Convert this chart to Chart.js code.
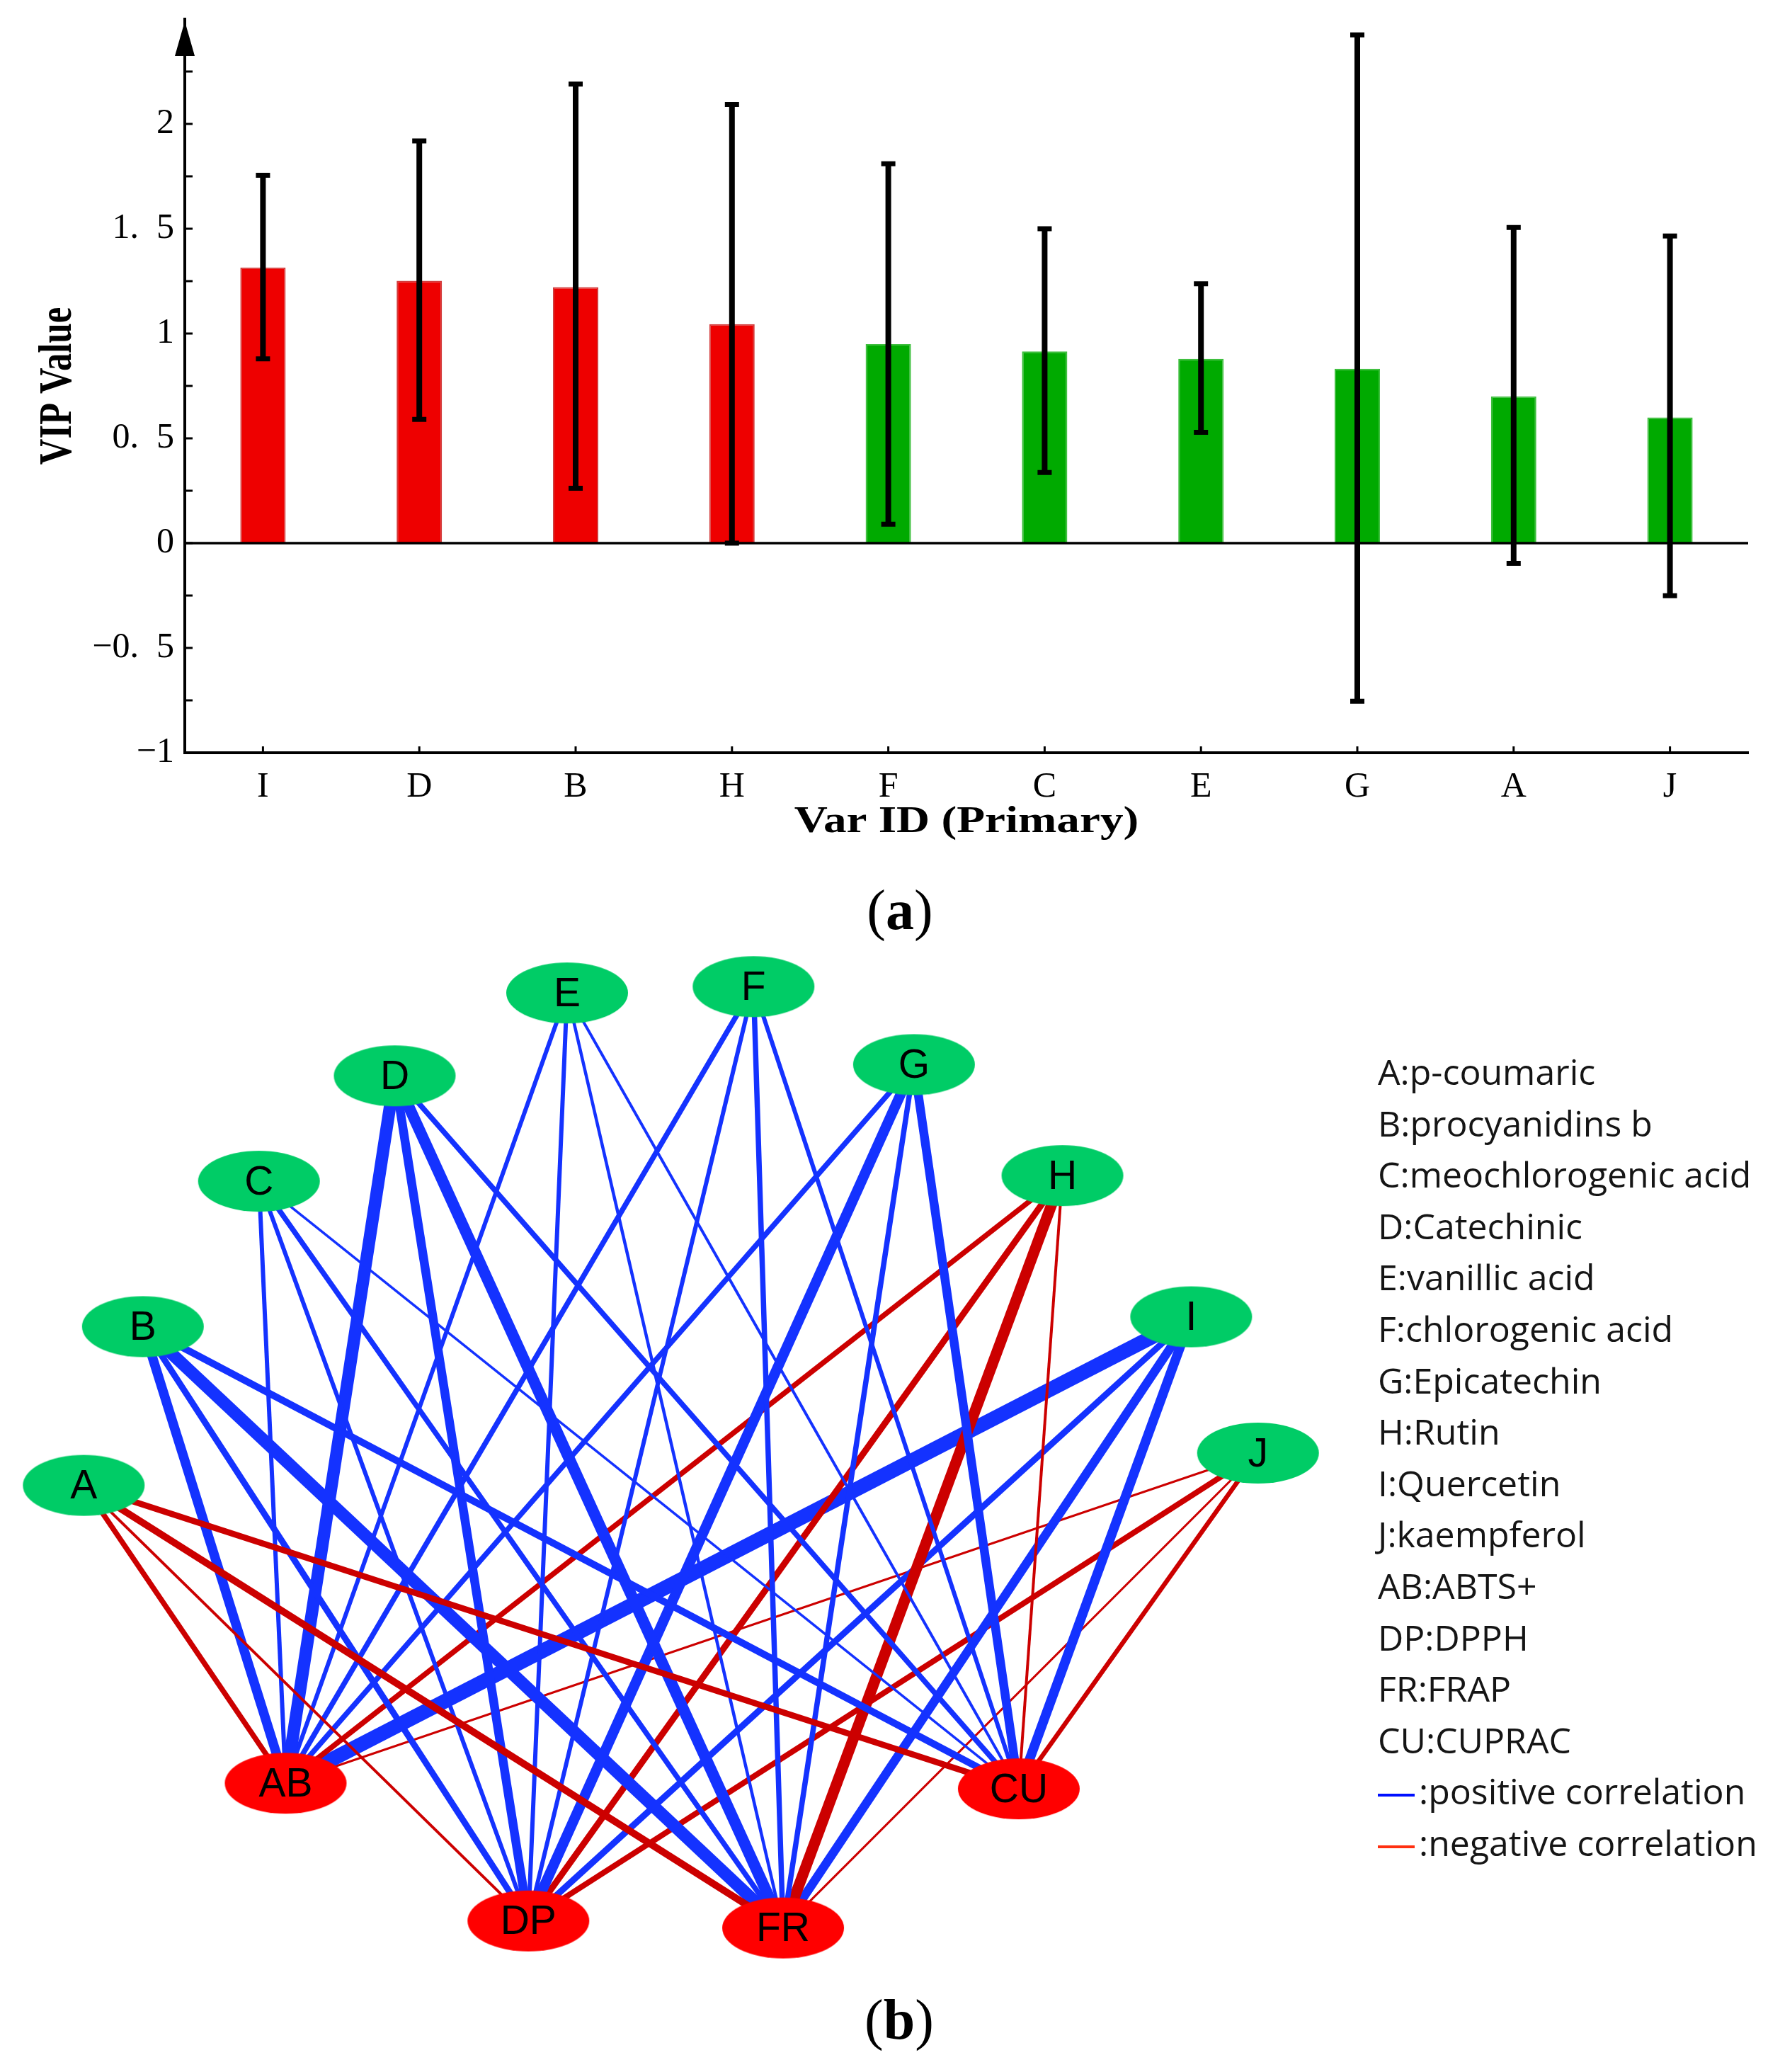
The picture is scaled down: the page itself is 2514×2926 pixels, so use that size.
<!DOCTYPE html>
<html>
<head>
<meta charset="utf-8">
<script src="https://cdn.jsdelivr.net/npm/chart.js@4.4.1/dist/chart.umd.min.js"></script>
<style>
  html, body { margin: 0; padding: 0; background: #fff; }
  body { width: 2514px; height: 2926px; position: relative; overflow: hidden; }
  #wrapVip { position: absolute; left: 0; top: 0; width: 2514px; height: 1230px; }
  #wrapRede { position: absolute; left: 0; top: 1300px; width: 1900px; height: 1500px; }
  .painel { position: absolute; font-family: "Liberation Serif", serif; font-size: 80px; color: #000;
            transform: translate(-50%, -50%); white-space: nowrap; line-height: 1; }
  #legenda { position: absolute; left: 1946px; top: 1477px; font-family: "Open Sans", sans-serif;
             font-size: 50px; line-height: 72.6px; color: #151515; white-space: nowrap; }
  .traco { display: inline-block; width: 52px; height: 4px; vertical-align: middle; margin-right: 6px; }
</style>
</head>
<body>
<div id="wrapVip"><canvas id="grafVip"></canvas></div>
<div class="painel" style="left:1271px; top:1285px;">(<b>a</b>)</div>
<div id="wrapRede"><canvas id="grafRede"></canvas></div>
<div id="legenda"></div>
<div class="painel" style="left:1270px; top:2852px;">(<b>b</b>)</div>

<script>
// ------------------------------------------------------
// 1. Dados do gráfico VIP
// ------------------------------------------------------
const categorias = ["I", "D", "B", "H", "F", "C", "E", "G", "A", "J"];
const vip = [1.315, 1.252, 1.221, 1.045, 0.949, 0.915, 0.879, 0.832, 0.700, 0.600];
const erroMin = [0.879, 0.590, 0.262, 0.000, 0.090, 0.337, 0.529, -0.754, -0.096, -0.251];
const erroMax = [1.755, 1.919, 2.190, 2.093, 1.810, 1.500, 1.237, 2.425, 1.506, 1.465];
const ticksY = [-1, -0.5, 0, 0.5, 1, 1.5, 2];
const rotulosY = ["−1", "−0.\u2002" + "5", "0", "0.\u2002" + "5", "1", "1.\u2002" + "5", "2"];
const tituloX = "Var ID (Primary)";
const tituloY = "VIP Value";

// ------------------------------------------------------
// 2. Dados da rede de correlação
// ------------------------------------------------------
const nosOrigem = ["A", "B", "C", "D", "E", "F", "G", "H", "I", "J"];
const origemX = [113, 197, 362, 555, 800, 1065, 1293, 1504, 1687, 1782];
const origemY = [798, 572, 365, 215, 97, 88, 199, 357, 558, 752];
const nosAlvo = ["AB", "DP", "FR", "CU"];
const alvoX = [400, 745, 1107, 1442];
const alvoY = [1222, 1418, 1428, 1230];
// correlação de cada composto (A..J) com cada ensaio
const corrAB = [-0.64, 0.76, 0.61, 0.84, 0.61, 0.64, 0.64, -0.64, 0.90, -0.55];
const corrDP = [-0.57, 0.67, 0.61, 0.74, 0.61, 0.61, 0.78, -0.67, 0.67, -0.65];
const corrFR = [-0.69, 0.84, 0.64, 0.81, 0.58, 0.64, 0.64, -0.80, 0.74, -0.55];
const corrCU = [-0.66, 0.69, 0.56, 0.64, 0.57, 0.61, 0.74, -0.57, 0.76, -0.62];

const legendaCodigos = ["A", "B", "C", "D", "E", "F", "G", "H", "I", "J", "AB", "DP", "FR", "CU"];
const legendaNomes = ["p-coumaric", "procyanidins b", "meochlorogenic acid", "Catechinic", "vanillic acid",
  "chlorogenic acid", "Epicatechin", "Rutin", "Quercetin", "kaempferol", "ABTS+", "DPPH", "FRAP", "CUPRAC"];

const serif = "Liberation Serif";

// ------------------------------------------------------
// 3. Plugin: barras de erro, ticks internos, seta e títulos
// ------------------------------------------------------
const extrasVip = {
  id: "extrasVip",
  afterDatasetsDraw(chart) {
    const { ctx, chartArea, scales: { x, y } } = chart;
    ctx.save();
    ctx.strokeStyle = "#000";

    // linha do zero
    ctx.lineWidth = 3.5;
    ctx.beginPath();
    ctx.moveTo(chartArea.left, y.getPixelForValue(0));
    ctx.lineTo(chartArea.right, y.getPixelForValue(0));
    ctx.stroke();

    // barras de erro
    categorias.forEach((c, i) => {
      const px = x.getPixelForValue(i);
      const yTop = y.getPixelForValue(erroMax[i]);
      const yBot = y.getPixelForValue(erroMin[i]);
      ctx.lineWidth = 8;
      ctx.beginPath();
      ctx.moveTo(px, yTop);
      ctx.lineTo(px, yBot);
      ctx.stroke();
      ctx.lineWidth = 7;
      ctx.beginPath();
      ctx.moveTo(px - 10, yTop); ctx.lineTo(px + 10, yTop);
      ctx.moveTo(px - 10, yBot); ctx.lineTo(px + 10, yBot);
      ctx.stroke();
    });
    ctx.restore();
  },
  afterDraw(chart) {
    const { ctx, chartArea, scales: { x, y } } = chart;
    ctx.save();
    ctx.strokeStyle = "#000";
    ctx.fillStyle = "#000";
    ctx.lineWidth = 3;

    // ticks do eixo y (para dentro)
    y.ticks.forEach(t => {
      if (t.value >= y.max) return;
      const py = y.getPixelForValue(t.value);
      ctx.beginPath();
      ctx.moveTo(chartArea.left, py);
      ctx.lineTo(chartArea.left + 11, py);
      ctx.stroke();
    });

    // ticks do eixo x (para dentro)
    categorias.forEach((c, i) => {
      const px = x.getPixelForValue(i);
      ctx.beginPath();
      ctx.moveTo(px, chartArea.bottom);
      ctx.lineTo(px, chartArea.bottom - 9);
      ctx.stroke();
    });

    // seta no topo do eixo y
    const ax = chartArea.left;
    ctx.beginPath();
    ctx.moveTo(ax, chartArea.top + 3);
    ctx.lineTo(ax - 14, chartArea.top + 52);
    ctx.lineTo(ax + 14, chartArea.top + 52);
    ctx.closePath();
    ctx.fill();

    // títulos dos eixos (a figura original está esticada na horizontal)
    ctx.textAlign = "center";
    ctx.textBaseline = "middle";
    ctx.font = `bold 53px "${serif}"`;
    ctx.save();
    ctx.translate((chartArea.left + chartArea.right) / 2, 1161);
    ctx.scale(1.23, 1);
    ctx.fillText(tituloX, 0, 0);
    ctx.restore();

    ctx.font = `bold 66px "${serif}"`;
    ctx.save();
    ctx.translate(83, (chartArea.top + chartArea.bottom) / 2);
    ctx.rotate(-Math.PI / 2);
    ctx.scale(0.77, 1);
    ctx.fillText(tituloY, 0, 0);
    ctx.restore();

    ctx.restore();
  }
};

// ------------------------------------------------------
// 4. Gráfico de barras VIP
// ------------------------------------------------------
new Chart(document.getElementById("grafVip"), {
  type: "bar",
  data: {
    labels: categorias,
    datasets: [{
      data: vip,
      backgroundColor: vip.map(v => v > 1 ? "#EE0000" : "#00AA00"),
      borderColor: vip.map(v => v > 1 ? "#D23C3C" : "#3CBE3C"),
      borderWidth: 2,
      barPercentage: 0.29,
      categoryPercentage: 1
    }]
  },
  options: {
    responsive: true,
    maintainAspectRatio: false,
    animation: false,
    devicePixelRatio: 1,
    events: [],
    layout: { padding: { top: 27, right: 45, bottom: 0, left: 0 } },
    plugins: { legend: { display: false }, tooltip: { enabled: false } },
    scales: {
      x: {
        grid: { display: false },
        border: { display: true, color: "#000", width: 4 },
        ticks: { font: { family: serif, size: 50 }, color: "#000", padding: 11, maxRotation: 0, autoSkip: false },
        afterFit: s => { s.height = 167; s.paddingLeft = 0; s.paddingRight = 0; }
      },
      y: {
        min: -1,
        max: 2.5,
        ticks: {
          stepSize: 0.25,
          autoSkip: false,
          font: { family: serif, size: 50 },
          color: "#000",
          padding: 15,
          callback: v => {
            const k = ticksY.indexOf(v);
            return k >= 0 ? rotulosY[k] : "";
          }
        },
        grid: { drawTicks: false, color: "rgba(0,0,0,0)" },
        border: { display: true, color: "#000", width: 4 },
        afterFit: s => { s.width = 261; s.paddingTop = 0; s.paddingBottom = 0; }
      }
    }
  },
  plugins: [extrasVip]
});

// ------------------------------------------------------
// 5. Rede de correlação
// ------------------------------------------------------
function elipse(cor) {
  const c = document.createElement("canvas");
  c.width = 174;
  c.height = 88;
  const g = c.getContext("2d");
  g.fillStyle = cor;
  g.beginPath();
  g.ellipse(87, 44, 86, 43, 0, 0, Math.PI * 2);
  g.fill();
  return c;
}

const elipseVerde = elipse("#00CC66");
const elipseVermelha = elipse("#FF0000");

const correlacoes = [corrAB, corrDP, corrFR, corrCU];
const arestas = [];
nosOrigem.forEach((n, i) => {
  nosAlvo.forEach((a, j) => {
    const r = correlacoes[j][i];
    arestas.push({
      type: "line",
      data: [{ x: origemX[i], y: origemY[i] }, { x: alvoX[j], y: alvoY[j] }],
      borderColor: r > 0 ? "#1432FF" : "#CC0000",
      borderWidth: (Math.abs(r) - 0.5) * 50 + 0.5,
      pointRadius: 0,
      showLine: true,
      fill: false,
      order: 1
    });
  });
});

const pontosNos = nosOrigem.map((n, i) => ({ x: origemX[i], y: origemY[i] }))
  .concat(nosAlvo.map((n, j) => ({ x: alvoX[j], y: alvoY[j] })));
const nomesNos = nosOrigem.concat(nosAlvo);

const rotulosNos = {
  id: "rotulosNos",
  afterDatasetsDraw(chart) {
    const meta = chart.getDatasetMeta(0);
    const { ctx } = chart;
    ctx.save();
    ctx.fillStyle = "#000";
    ctx.font = '57px "Liberation Sans"';
    ctx.textAlign = "center";
    ctx.textBaseline = "middle";
    meta.data.forEach((p, k) => ctx.fillText(nomesNos[k], p.x, p.y + 3));
    ctx.restore();
  }
};

new Chart(document.getElementById("grafRede"), {
  type: "scatter",
  data: {
    datasets: [{
      data: pontosNos,
      pointStyle: nomesNos.map((n, k) => k < nosOrigem.length ? elipseVerde : elipseVermelha),
      pointRadius: 5,
      order: -1
    }].concat(arestas)
  },
  options: {
    responsive: true,
    maintainAspectRatio: false,
    animation: false,
    devicePixelRatio: 1,
    events: [],
    layout: { padding: 0 },
    plugins: { legend: { display: false }, tooltip: { enabled: false } },
    scales: {
      x: { type: "linear", min: 0, max: 1900, display: false },
      y: { type: "linear", min: 0, max: 1500, reverse: true, display: false }
    }
  },
  plugins: [rotulosNos]
});

// ------------------------------------------------------
// 6. Legenda da rede
// ------------------------------------------------------
const legenda = document.getElementById("legenda");
legendaCodigos.forEach((c, i) => {
  const div = document.createElement("div");
  div.textContent = `${c}:${legendaNomes[i]}`;
  legenda.appendChild(div);
});
[["#0010FF", ":positive correlation"], ["#FF3010", ":negative correlation"]].forEach(([cor, txt]) => {
  const div = document.createElement("div");
  div.innerHTML = `<span class="traco" style="background:${cor}"></span>${txt}`;
  legenda.appendChild(div);
});
</script>
</body>
</html>
